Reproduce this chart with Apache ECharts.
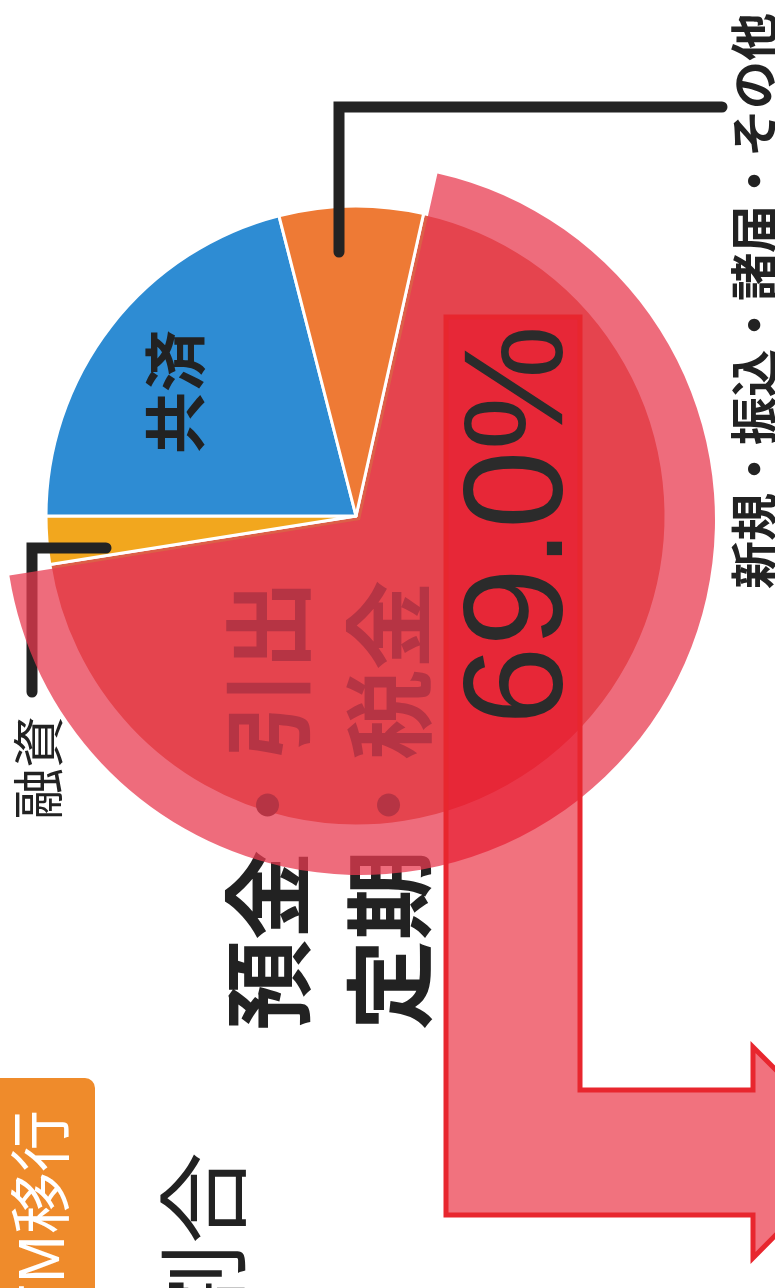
<!DOCTYPE html>
<html>
<head>
<meta charset="utf-8">
<script src="https://cdn.jsdelivr.net/npm/echarts@6/dist/echarts.min.js"></script>
<style>
html, body { margin: 0; padding: 0; background: #fff; }
#chart { width: 775px; height: 1288px; }
</style>
</head>
<body>
<div id="chart"></div>
<script>
// shares, clockwise from the top edge of the big slice
var categories = ['預金・引出\n定期・税金', '融資', '共済', '新規・振込・諸届・その他'];
var values     = [69.0, 2.5, 21.0, 7.5];
var percentText = '69.0%';
var colors     = ['#DC5F48', '#F2A71E', '#2E8CD3', '#EE7A35'];

var FONT = '"Noto Sans CJK JP", "Noto Sans", sans-serif';
var UP = Math.PI / 2;   // all text in the scan reads bottom to top

function vText(txt, x, y, size, opts) {
    opts = opts || {};
    return {
        type : 'text',
        x : x,
        y : y,
        rotation : UP,
        z : opts.z || 2,
        style : {
            text : txt,
            fill : opts.fill || '#222',
            font : (opts.weight || 'normal') + ' ' + size + 'px ' + (opts.family || FONT),
            textAlign : opts.align || 'center',
            textVerticalAlign : 'middle'
        }
    };
}

var bigLines = categories[0].split('\n');

var myChart = echarts.init(document.getElementById('chart'));
var option = {
    animation : false,
    backgroundColor : '#fff',
    series : [
        {
            type : 'pie',
            z : 1,
            silent : true,
            center : [356, 516],
            radius : 310,
            startAngle : 77.4,
            clockwise : true,
            label : { show : false },
            labelLine : { show : false },
            itemStyle : { borderColor : '#fff', borderWidth : 3 },
            data : categories.map(function (n, i) {
                return { name : n, value : values[i], itemStyle : { color : colors[i] } };
            })
        },
        {
            // translucent highlight over the big slice
            type : 'pie',
            z : 3,
            silent : true,
            center : [360, 520],
            radius : 355,
            startAngle : 77.4,
            clockwise : true,
            label : { show : false },
            labelLine : { show : false },
            itemStyle : { borderWidth : 0 },
            data : categories.map(function (n, i) {
                return {
                    name : n,
                    value : values[i],
                    itemStyle : { color : i === 0 ? 'rgba(232,59,80,0.75)' : 'rgba(0,0,0,0)' }
                };
            })
        }
    ],
    graphic : [
        // leader lines
        {
            type : 'polyline', z : 2,
            shape : { points : [[339, 252], [339, 107], [722, 107]] },
            style : { stroke : '#232323', lineWidth : 11, fill : null, lineCap : 'round' }
        },
        {
            type : 'polyline', z : 2,
            shape : { points : [[106, 548], [32, 548], [32, 692]] },
            style : { stroke : '#232323', lineWidth : 11, fill : null, lineCap : 'round' }
        },
        vText(categories[3], 754, 301, 48, { weight : 'bold' }),
        vText(categories[1], 38, 768, 52),
        vText(categories[2], 175, 392, 62, { weight : 'bold' }),
        vText(bigLines[0], 268, 805, 90, { weight : 'bold' }),
        vText(bigLines[1], 389, 805, 90, { weight : 'bold' }),
        vText('割合', 203, 1152, 92, { align : 'right' }),
        {
            type : 'rect', z : 2,
            shape : { x : -12, y : 1078, width : 107, height : 260, r : 10 },
            style : { fill : '#EF8B2B' }
        },
        vText('ATM移行', 40, 1110, 62, { align : 'right', fill : '#fff', z : 3 }),
        // arrow
        {
            type : 'polygon', z : 4,
            shape : {
                points : [[446, 317], [580, 317], [580, 1090], [753, 1090], [753, 1047],
                          [858, 1152], [753, 1258], [753, 1215], [446, 1215]]
            },
            style : { fill : 'rgba(232,20,40,0.6)', stroke : '#E8262E', lineWidth : 5, lineJoin : 'miter' }
        },
        vText(percentText, 523, 525, 141, { family : '"Liberation Sans", Arial, sans-serif', fill : '#2b2b2b', z : 5 })
    ]
};
myChart.setOption(option);
</script>
</body>
</html>
